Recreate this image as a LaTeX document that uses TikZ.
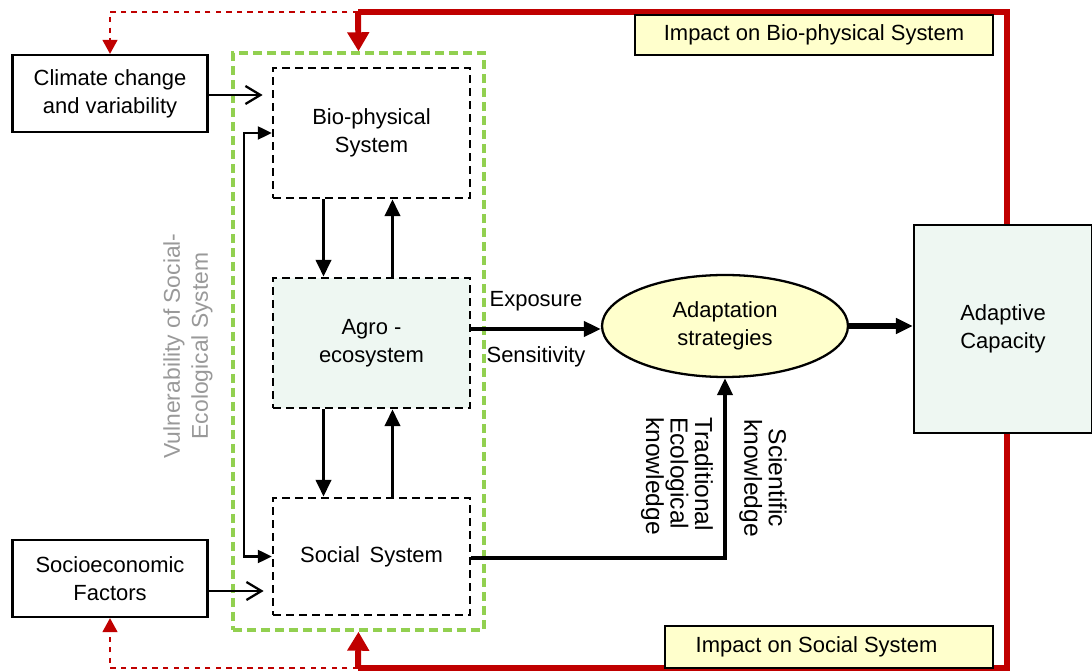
\documentclass[tikz,border=0pt]{standalone}
\usepackage{fontspec}
\setmainfont{Liberation Sans}
\usetikzlibrary{positioning, arrows.meta, shapes.geometric}
\definecolor{impactred}{HTML}{C00000}
\definecolor{framegreen}{HTML}{92D050}
\definecolor{agrogreen}{HTML}{EEF7F2}
\definecolor{noteyellow}{HTML}{FFFFCC}
\tikzstyle{arrow} = [line width=2.2pt,-{Triangle[width=0.3cm,length=0.34cm]}]

\begin{document}
\begin{tikzpicture}[x=0.02cm,y=-0.02cm]
                    \tikzstyle{every node}=[font=\fontsize{12.5}{16}\selectfont, align=center]
                    \tikzstyle{driver} = [draw=black, line width=1.3pt, minimum width=3.9cm, minimum height=1.54cm, inner sep=0]
                    \tikzstyle{system} = [draw=black, line width=1.4pt, dash pattern=on 0.16cm off 0.1cm, minimum width=3.94cm, inner sep=0]
                    \tikzstyle{impact} = [draw=black, line width=1.3pt, fill=noteyellow, inner sep=0]
                    \tikzstyle{redline} = [draw=impactred, line width=3.4pt, line join=miter]
                    \tikzstyle{redarrow} = [draw=impactred, fill=impactred, line width=3.4pt, -{Triangle[width=0.42cm,length=0.38cm]}]
                    \tikzstyle{reddash} = [draw=impactred, line width=0.8pt, dashed, -{Triangle[width=0.3cm,length=0.28cm]}]
                    \tikzstyle{inflow} = [line width=1.3pt, -{Straight Barb[length=0.3cm,width=0.36cm,line width=1.3pt]}]
                    \tikzstyle{link} = [line width=1.3pt, {Triangle[width=0.26cm,length=0.28cm]}-{Triangle[width=0.26cm,length=0.28cm]}]

                    \useasboundingbox (0,0) rectangle (1092,671);

                    % red feedback loop, drawn first so that the boxes cover it
                    \coordinate (rtop) at (358,12);
                    \coordinate (rtr) at (1007,12);
                    \coordinate (rbr) at (1007,668);
                    \coordinate (rbot) at (358,668);
                    \draw[redline] (rtop) -- (rtr) -- (rbr) -- (rbot);

                    % drivers
                    \node[driver](climate) at (110,93.5) {Climate change\\and variability};
                    \node[driver](socio) at (110,578.5) {Socioeconomic\\Factors};

                    % social-ecological system
                    \node[draw=framegreen, line width=2pt, dash pattern=on 0.18cm off 0.1cm, minimum width=5.02cm, minimum height=11.54cm](vul) at (358.5,341.5) {};
                    \node[text=black!40, rotate=90, font=\fontsize{13}{16}\selectfont](vultext) at (188,346) {Vulnerability of Social-\\Ecological System};
                    \node[system, minimum height=2.6cm](bio) at (371.5,133) {Bio-physical\\System};
                    \node[system, minimum height=2.6cm, fill=agrogreen](agro) at (371.5,343) {Agro -\\ecosystem};
                    \node[system, minimum height=2.34cm](social) at (371.5,556.5) {Social\, System};

                    \draw[arrow] ([xshift=-0.96cm]bio.south) -- ([xshift=-0.96cm]agro.north);
                    \draw[arrow] ([xshift=0.42cm]agro.north) -- ([xshift=0.42cm]bio.south);
                    \draw[arrow] ([xshift=-0.96cm]agro.south) -- ([xshift=-0.96cm]social.north);
                    \draw[arrow] ([xshift=0.42cm]social.north) -- ([xshift=0.42cm]agro.south);
                    \draw[link] (bio.west) -- ++(-28,0) |- (social.west);

                    \draw[inflow] ([yshift=-0.03cm]climate.east) -- ++(54,0);
                    \draw[inflow] ([yshift=-0.25cm]socio.east) -- ++(55,0);

                    % adaptation
                    \node[ellipse, draw=black, line width=1.3pt, fill=noteyellow, minimum width=4.92cm, minimum height=2.04cm, inner sep=0](strat) at (725,326) {Adaptation\\strategies};
                    \node[draw=black, line width=1.3pt, fill=agrogreen, minimum width=3.56cm, minimum height=4.16cm, inner sep=0](adapt) at (1003,329) {Adaptive\\Capacity};

                    \draw[arrow] ([yshift=0.28cm]agro.east) -- ([yshift=0.28cm]agro.east -| strat.west)
                        node[midway, yshift=0.56cm]{Exposure}
                        node[midway, yshift=-0.56cm]{Sensitivity};
                    \draw[arrow] ([yshift=-0.03cm]social.east) -| (strat.south);
                    \draw[arrow, line width=3pt] (strat.east) -- (strat.east -| adapt.west);

                    \node[rotate=-90, align=left, font=\fontsize{14}{14}\selectfont](tek) at (677,476) {Traditional\\Ecological\\knowledge};
                    \node[rotate=-90, font=\fontsize{14}{14}\selectfont](sci) at (763,478) {Scientific\\knowledge};

                    % impacts
                    \node[impact, minimum width=7.16cm, minimum height=0.8cm](impbio) at (814,35) {Impact on Bio-physical System};
                    \node[impact, minimum width=6.56cm, minimum height=0.84cm](impsoc) at (829,647) {Impact on Social System\hspace{0.5cm}};

                    \draw[redarrow] (rtop) -- (vul.north);
                    \draw[redarrow] (rbot) -- (vul.south);
                    \draw[reddash] (rtop) -| (climate.north);
                    \draw[reddash] (rbot) -| (socio.south);

\end{tikzpicture}
\end{document}
